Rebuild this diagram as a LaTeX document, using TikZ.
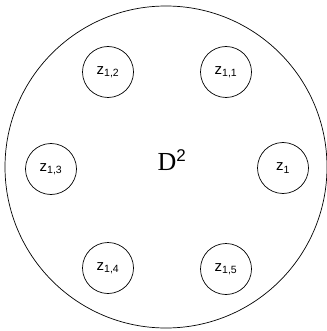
\documentclass[tikz,border=0pt]{standalone}
\usepackage{fontspec}
\setmainfont{Liberation Serif}
\setsansfont{Liberation Sans}
\usepackage{tikz}

\tikzset{
  puncture/.style={circle, draw, line width=0.7pt, minimum size=51pt, inner sep=0pt, font=\sffamily\fontsize{15}{15}\selectfont},
}
\newcommand{\zlab}[1]{z\textsubscript{\fontsize{10.5}{10.5}\selectfont #1}}

\begin{document}
\begin{tikzpicture}[x=1pt, y=-1pt]
\useasboundingbox (0,0) rectangle (326,331);
\node[circle, draw, line width=0.7pt, minimum size=322pt, inner sep=0pt] (disk) at (166,167) {};
\node[font=\fontsize{26}{26}\selectfont] (D) at (172,160) {D\textsuperscript{\sffamily\fontsize{17}{17}\selectfont 2}};
\node[puncture] (z12) at (108,72) {\zlab{1,2}};
\node[puncture] (z11) at (226,72) {\zlab{1,1}};
\node[puncture] (z13) at (51,169) {\zlab{1,3}};
\node[puncture] (z1) at (283,168) {\zlab{1}};
\node[puncture] (z14) at (108,268) {\zlab{1,4}};
\node[puncture] (z15) at (226,269) {\zlab{1,5}};
\end{tikzpicture}
\end{document}
